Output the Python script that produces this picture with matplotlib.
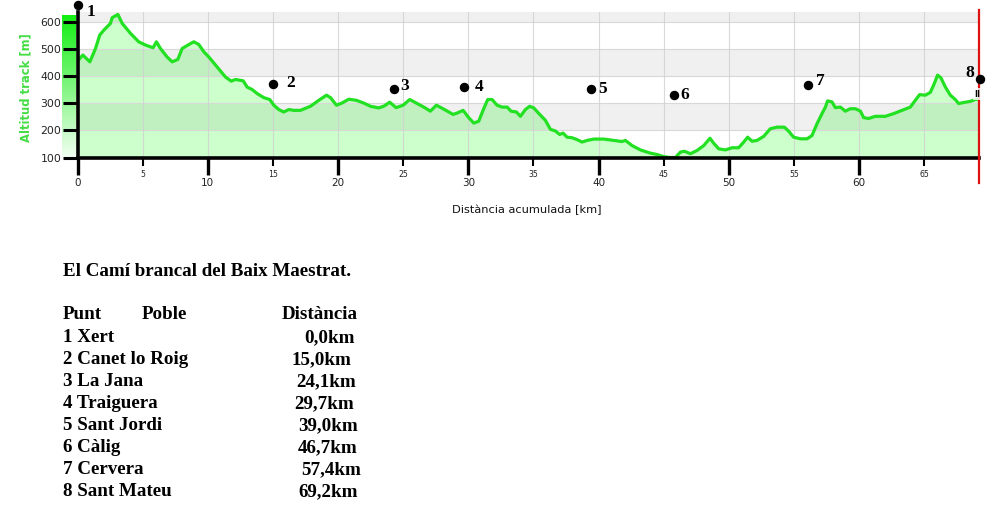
import numpy as np
import matplotlib
matplotlib.use("Agg")
import matplotlib.pyplot as plt
from matplotlib.transforms import blended_transform_factory
from matplotlib.colors import LinearSegmentedColormap

# ---------------- data ----------------
km = [0.0, 0.41, 0.95, 1.38, 1.71, 2.02, 2.53, 2.66, 3.1, 3.43, 4.07, 4.7, 5.22, 5.8, 6.06, 6.37,
      6.88, 7.27, 7.7, 8.03, 8.55, 8.93, 9.31, 9.7, 10.08, 10.72, 11.36, 11.8, 12.13, 12.72, 13.02,
      13.4, 13.79, 14.3, 14.76, 15.07, 15.45, 15.83, 16.22, 16.6, 17.11, 17.88, 18.52, 19.11, 19.42,
      19.88, 20.3, 20.82, 21.41, 21.97, 22.49, 23.12, 23.5, 23.97, 24.45, 25.0, 25.5, 26.07, 26.58,
      27.09, 27.55, 28.17, 28.83, 29.14, 29.6, 30.03, 30.42, 30.8, 31.18, 31.49, 31.82, 32.21, 32.59,
      32.98, 33.28, 33.69, 34.0, 34.38, 34.71, 35.02, 35.48, 35.92, 36.3, 36.68, 37.01, 37.27, 37.58,
      37.96, 38.35, 38.73, 39.12, 39.63, 40.39, 41.16, 41.8, 42.06, 42.57, 43.21, 43.98, 44.49, 45.0,
      45.51, 45.9, 46.28, 46.59, 47.05, 47.56, 48.07, 48.55, 48.83, 49.22, 49.73, 50.25, 50.75, 51.14,
      51.44, 51.78, 52.16, 52.67, 53.18, 53.7, 54.26, 54.59, 54.97, 55.49, 56.0, 56.38, 56.77, 57.15,
      57.41, 57.58, 57.92, 58.17, 58.56, 58.94, 59.32, 59.71, 60.1, 60.35, 60.73, 61.24, 62.01, 62.65,
      63.29, 63.93, 64.31, 64.64, 65.08, 65.46, 65.77, 66.02, 66.28, 66.62, 67.0, 67.38, 67.64, 68.02,
      68.53, 68.92, 69.2]
alt = [456, 478, 453, 502, 552, 570, 595, 616, 628, 595, 558, 527, 515, 505, 527, 502,
       471, 453, 462, 502, 517, 527, 517, 490, 471, 434, 397, 382, 388, 383, 360,
       351, 336, 321, 314, 293, 277, 268, 277, 274, 274, 289, 311, 330, 321,
       293, 301, 315, 311, 301, 289, 283, 289, 304, 284, 293, 314, 299, 286,
       271, 293, 277, 259, 264, 274, 247, 227, 234, 280, 314, 314, 293, 286,
       286, 271, 268, 252, 277, 289, 283, 259, 237, 204, 198, 185, 190, 175,
       173, 166, 157, 163, 168, 168, 163, 159, 163, 144, 128, 116, 111, 103,
       100, 100, 120, 123, 114, 126, 144, 171, 153, 132, 128, 136, 136, 157,
       175, 160, 163, 178, 206, 212, 212, 197, 175, 169, 169, 181, 225, 262,
       286, 309, 305, 284, 286, 271, 280, 280, 271, 247, 244, 252, 252, 262,
       274, 286, 311, 332, 330, 340, 373, 404, 394, 360, 330, 314, 299, 303,
       307, 314, 316]

marker_km = [0.0, 14.99, 24.27, 29.7, 39.42, 45.76, 56.05, 69.25]
marker_alt = [663, 370, 351, 360, 351, 332, 369, 389]
marker_labels = ["1", "2", "3", "4", "5", "6", "7", "8"]

x_major = [0, 10, 20, 30, 40, 50, 60]
x_minor = [5, 15, 25, 35, 45, 55, 65]
y_ticks = [100, 200, 300, 400, 500, 600]

title = "El Camí brancal del Baix Maestrat."
header = ["Punt", "Poble", "Distància"]
towns = ["Xert", "Canet lo Roig", "La Jana", "Traiguera", "Sant Jordi", "Càlig", "Cervera", "Sant Mateu"]
town_dist = [0.0, 15.0, 24.1, 29.7, 39.0, 46.7, 57.4, 69.2]

# ---------------- layout ----------------
W, H = 1001, 531
fig = plt.figure(figsize=(W / 100, H / 100), dpi=100)
fig.patch.set_facecolor("white")


def px_rect(x0, y0, x1, y1):
    return [x0 / W, 1 - y1 / H, (x1 - x0) / W, (y1 - y0) / H]


# gradient bar left of the y axis
gax = fig.add_axes(px_rect(62, 15, 76, 157), zorder=0)
grad = np.linspace(0, 1, 256).reshape(-1, 1)
gcmap = LinearSegmentedColormap.from_list("g", ["#12ee12", "#7ff57f", "#f2fff2"])
gax.imshow(grad, aspect="auto", cmap=gcmap, extent=[0, 1, 0, 1])
gax.set_axis_off()

ax = fig.add_axes(px_rect(77.5, 12, 979, 157.5), zorder=1)
ax.set_xlim(0, 69.2)
ax.set_ylim(100, 637)
ax.set_facecolor("white")

# fill + bands
ax.fill_between(km, alt, 100, color="#ccffcc", zorder=1, linewidth=0)
for lo in [200, 400, 600]:
    ax.axhspan(lo, lo + 100, color="black", alpha=0.06, zorder=2, linewidth=0)
for y in y_ticks:
    ax.axhline(y, color="#d8d8d8", lw=0.8, zorder=2.5)
for x in x_major[1:] + x_minor:
    ax.axvline(x, color="#d0d0d0", lw=0.8, alpha=0.8, zorder=2.5)

ax.plot(km, alt, color="#22e022", lw=2.3, zorder=4, solid_joinstyle="round")

# spines
for s in ["top", "right"]:
    ax.spines[s].set_visible(False)
for s in ["left", "bottom"]:
    ax.spines[s].set_linewidth(2.6)
    ax.spines[s].set_color("black")
    ax.spines[s].set_zorder(5)

# ticks
ax.set_xticks(x_major)
ax.set_xticklabels([str(v) for v in x_major])
ax.set_xticks(x_minor, minor=True)
ax.set_xticklabels([str(v) for v in x_minor], minor=True)
ax.tick_params(axis="x", which="major", length=12, width=2.4, labelsize=7.5, pad=3,
               colors="black", labelcolor="#222222")
ax.tick_params(axis="x", which="minor", length=5.5, width=1.5, labelsize=5.6, pad=3.5,
               colors="black", labelcolor="#222222")
ax.set_yticks(y_ticks)
ax.set_yticklabels([str(v) for v in y_ticks])
ax.tick_params(axis="y", which="major", length=10.5, width=2.2, labelsize=7.8, pad=1,
               colors="black", labelcolor="#222222")

fig.text(26 / W, 1 - 87.5 / H, "Altitud track [m]", rotation=90, color="#44dd44",
         fontweight="bold", fontsize=8.4, ha="center", va="center")
fig.text(527 / W, 1 - 210 / H, "Distància acumulada [km]", fontsize=8.2,
         ha="center", va="center", color="#111111")

# markers
ax.plot(marker_km, marker_alt, "o", color="black", ms=5.8, clip_on=False, zorder=8)
offsets = [(9, -7), (13, 1), (7, 3), (10, 0), (7, 0), (7, 0), (8, 4), (-5, 6)]
for xk, ya, lab, off in zip(marker_km, marker_alt, marker_labels, offsets):
    ax.annotate(lab, (xk, ya), xytext=off, textcoords="offset pixels",
                ha="right" if off[0] < 0 else "left", va="center",
                fontsize=12.5, fontweight="bold", family="Liberation Serif",
                annotation_clip=False, zorder=9)

# small handle mark and red cursor line
ax.text(km[-1] - 0.12, 334, "II", fontsize=6, fontweight="bold", ha="center", va="center",
        zorder=9, clip_on=False,
        bbox=dict(boxstyle="square,pad=0.15", fc="white", ec="none", alpha=0.8))
tr = blended_transform_factory(ax.transData, ax.transAxes)
ax.plot([km[-1], km[-1]], [-0.172, 1.014], transform=tr, color="#dd1111", lw=1.6,
        clip_on=False, zorder=7)

# ---------------- text table ----------------
serif = dict(family="Liberation Serif", fontweight="bold", fontsize=13.7, color="black",
             va="baseline")
fig.text(63 / W, 1 - 276 / H, title, ha="left", **serif)
header_x = [63, 142, 282]
for hx, ht in zip(header_x, header):
    fig.text(hx / W, 1 - 319 / H, ht, ha="left", **serif)
dist_x = [304, 292, 296, 294, 298, 298, 301, 298]
for i, (name, d) in enumerate(zip(towns, town_dist)):
    yy = 342 + 22 * i
    fig.text(63 / W, 1 - yy / H, f"{i + 1} {name}", ha="left", **serif)
    fig.text(dist_x[i] / W, 1 - yy / H, f"{d:.1f}".replace(".", ",") + "km", ha="left", **serif)

fig.savefig("out.png", dpi=100, facecolor="white")
